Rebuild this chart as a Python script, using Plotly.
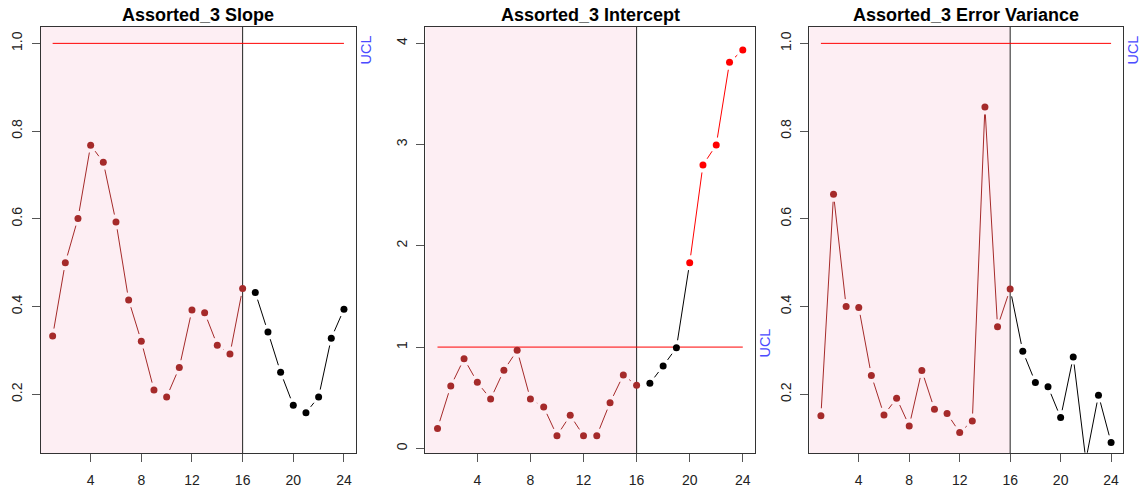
import math
import plotly.graph_objects as go

# ---------------- data ----------------
obs = list(range(1, 25))
slope = [0.333, 0.500, 0.601, 0.768, 0.729, 0.593, 0.415, 0.321, 0.210, 0.194, 0.261, 0.392,
         0.386, 0.312, 0.292, 0.441, 0.432, 0.342, 0.250, 0.175, 0.158, 0.194, 0.328, 0.394]
intercept = [0.197, 0.615, 0.885, 0.652, 0.487, 0.770, 0.968, 0.487, 0.408, 0.125, 0.326, 0.125,
             0.125, 0.451, 0.724, 0.622, 0.642, 0.813, 0.994, 1.833, 2.798, 2.996, 3.812, 3.934]
err_var = [0.151, 0.656, 0.400, 0.398, 0.243, 0.153, 0.191, 0.128, 0.254, 0.166, 0.156, 0.113,
           0.139, 0.855, 0.354, 0.440, 0.298, 0.227, 0.217, 0.147, 0.285, 0.050, 0.198, 0.090]
titles = ["Assorted_3 Slope", "Assorted_3 Intercept", "Assorted_3 Error Variance"]
ucl_values = [1.0, 1.0, 1.0]
phase1_end = 16
x_ticks = [4, 8, 12, 16, 20, 24]
y_ticks_unit = [0.2, 0.4, 0.6, 0.8, 1.0]
y_ticklabels_unit = ["0.2", "0.4", "0.6", "0.8", "1.0"]
y_ticks_int = [0, 1, 2, 3, 4]
y_ticklabels_int = ["0", "1", "2", "3", "4"]

series = [slope, intercept, err_var]

# ---------------- layout geometry (pixels, page coordinates) ----------------
W, H = 1144, 492
panels_px = [(41.0, 355.6), (425.3, 755.0), (809.3, 1122.7)]
top_px, bot_px = 26.7, 453.3
x_range = [0.08, 24.92]
y_ranges = [[0.0655, 1.038], [-0.049, 4.164], [0.0655, 1.038]]
ucl_shift = [-7, 4, -7]

BROWN = "#A52A2A"
PINK = "#FDEEF3"
GAP = 7.5

fig = go.Figure()


def px_x(p):
    return p / W


def px_y(p):
    return 1 - p / H


def gapped(xs, ys, xr, yr, wpx, hpx, keep=None, gap=GAP):
    sx = wpx / (xr[1] - xr[0])
    sy = hpx / (yr[1] - yr[0])
    X, Y = [], []
    for i in range(len(xs) - 1):
        if keep is not None and not keep(i):
            continue
        dx = (xs[i + 1] - xs[i]) * sx
        dy = (ys[i + 1] - ys[i]) * sy
        L = math.hypot(dx, dy)
        if L <= 2 * gap:
            continue
        f = gap / L
        X += [xs[i] + (xs[i + 1] - xs[i]) * f, xs[i + 1] - (xs[i + 1] - xs[i]) * f, None]
        Y += [ys[i] + (ys[i + 1] - ys[i]) * f, ys[i + 1] - (ys[i + 1] - ys[i]) * f, None]
    return X, Y


shapes = []
annotations = []
for k, vals in enumerate(series):
    n = k + 1
    xa = "x" if n == 1 else f"x{n}"
    ya = "y" if n == 1 else f"y{n}"
    xl, xr_px = panels_px[k]
    wpx = xr_px - xl
    hpx = bot_px - top_px
    yr = y_ranges[k]
    ucl = ucl_values[k]

    # pink phase-I region and divider
    shapes.append(dict(type="rect", xref=xa, yref=f"{ya} domain", x0=x_range[0], x1=phase1_end,
                       y0=0, y1=1, fillcolor=PINK, line=dict(width=0), layer="below"))
    shapes.append(dict(type="line", xref=xa, yref=f"{ya} domain", x0=phase1_end, x1=phase1_end,
                       y0=0, y1=1, line=dict(color="#222222", width=1), layer="below"))

    # UCL line
    fig.add_trace(go.Scatter(x=[obs[0], obs[-1]], y=[ucl, ucl], mode="lines",
                             line=dict(color="#FF0000", width=1), xaxis=xa, yaxis=ya,
                             showlegend=False, hoverinfo="skip"))

    red = [o > phase1_end and v > ucl for o, v in zip(obs, vals)]

    # phase I line (brown)
    x1s = obs[:phase1_end]
    y1s = vals[:phase1_end]
    gx, gy = gapped(x1s, y1s, x_range, yr, wpx, hpx)
    fig.add_trace(go.Scatter(x=gx, y=gy, mode="lines", line=dict(color=BROWN, width=1),
                             xaxis=xa, yaxis=ya, showlegend=False, hoverinfo="skip"))
    # phase II line (black), except segments joining two out-of-control points
    x2s = obs[phase1_end - 1:]
    y2s = vals[phase1_end - 1:]
    r2 = red[phase1_end - 1:]
    gx, gy = gapped(x2s, y2s, x_range, yr, wpx, hpx, keep=lambda i: not (r2[i] and r2[i + 1]))
    fig.add_trace(go.Scatter(x=gx, y=gy, mode="lines", line=dict(color="#000000", width=1),
                             xaxis=xa, yaxis=ya, showlegend=False, hoverinfo="skip"))
    # red line among out-of-control phase II points
    rx = [o for o, r in zip(obs, red) if r]
    ry = [v for v, r in zip(vals, red) if r]
    if len(rx) > 1:
        gx, gy = gapped(rx, ry, x_range, yr, wpx, hpx)
        fig.add_trace(go.Scatter(x=gx, y=gy, mode="lines", line=dict(color="#FF0000", width=1),
                                 xaxis=xa, yaxis=ya, showlegend=False, hoverinfo="skip"))

    colors = []
    for o, v, r in zip(obs, vals, red):
        if o <= phase1_end:
            colors.append(BROWN)
        elif r:
            colors.append("#FF0000")
        else:
            colors.append("#000000")
    fig.add_trace(go.Scatter(x=obs, y=vals, mode="markers",
                             marker=dict(color=colors, size=7, line=dict(width=0)),
                             xaxis=xa, yaxis=ya, showlegend=False))

    axis_common = dict(showline=True, mirror=True, linecolor="#333333", linewidth=1,
                       ticks="outside", ticklen=8, tickcolor="#555555", tickwidth=1,
                       showgrid=False, zeroline=False,
                       tickfont=dict(family="Liberation Sans, Arial", size=14, color="#222222"))
    fig.update_layout({
        ("xaxis" if n == 1 else f"xaxis{n}"): dict(
            axis_common, domain=[px_x(xl), px_x(xr_px)], range=x_range, tickvals=x_ticks,
            ticktext=[str(t) for t in x_ticks], anchor=ya, ticklabelstandoff=6),
        ("yaxis" if n == 1 else f"yaxis{n}"): dict(
            axis_common, domain=[px_y(bot_px), px_y(top_px)], range=yr,
            tickvals=y_ticks_int if k == 1 else y_ticks_unit,
            ticktext=y_ticklabels_int if k == 1 else y_ticklabels_unit,
            tickangle=-90, anchor=xa, ticklabelstandoff=4),
    })

    annotations.append(dict(text=f"<b>{titles[k]}</b>", xref="paper", yref="paper",
                            x=px_x((xl + xr_px) / 2), y=px_y(15), xanchor="center", yanchor="middle",
                            showarrow=False, borderpad=0,
                            font=dict(family="Liberation Sans, Arial", size=18, color="#000000")))
    annotations.append(dict(text="UCL", xref="paper", yref=ya, x=px_x(xr_px + 10.5), y=ucl,
                            xanchor="center", yanchor="middle", textangle=-90, yshift=ucl_shift[k],
                            showarrow=False,
                            font=dict(family="Liberation Sans, Arial", size=14.5, color="#4B4BFF")))

fig.update_layout(width=W, height=H, margin=dict(l=0, r=0, t=0, b=0),
                  paper_bgcolor="white", plot_bgcolor="white",
                  shapes=shapes, annotations=annotations, showlegend=False)

fig.write_html("out.html", config={"displayModeBar": False},
               post_script="document.body.style.margin='0';document.body.style.overflow='hidden';")
